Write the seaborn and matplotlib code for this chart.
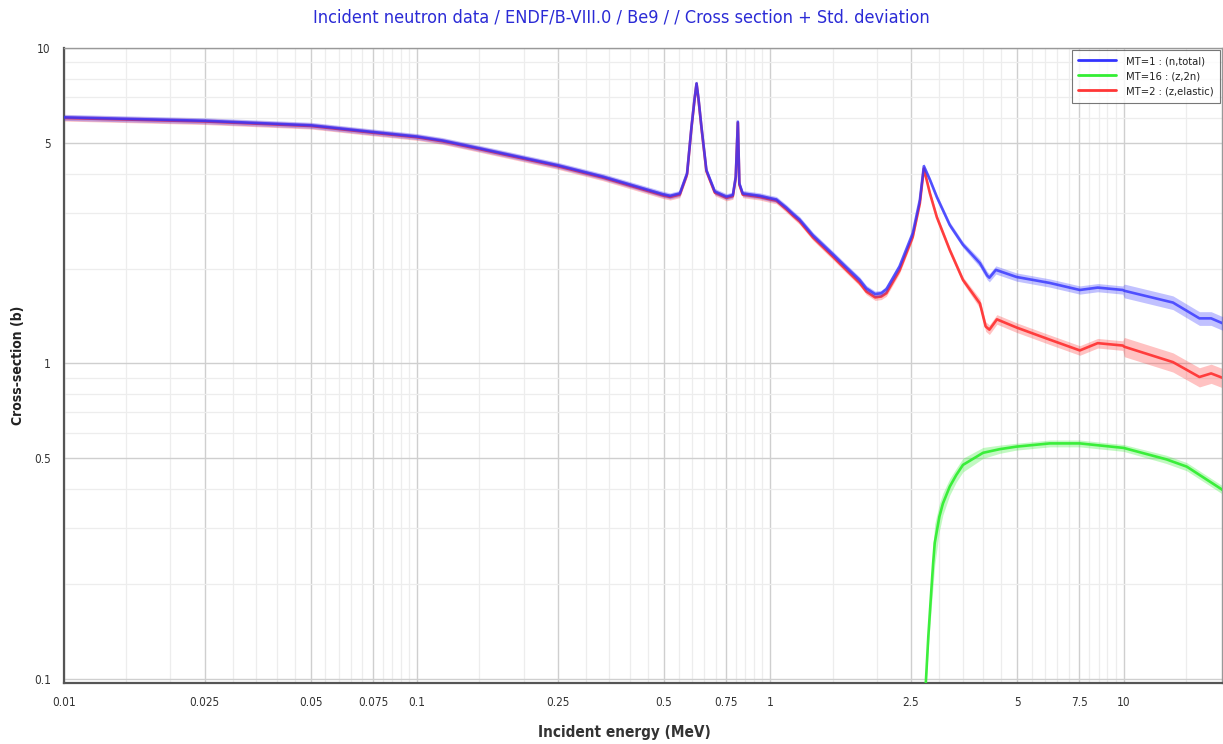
import numpy as np
import matplotlib
matplotlib.use("Agg")
import matplotlib.pyplot as plt
import seaborn as sns
from matplotlib.ticker import FixedLocator, FixedFormatter, NullFormatter
from matplotlib.lines import Line2D

# ---- Be-9 evaluated cross sections (ENDF/B-VIII.0), barns vs MeV ----
e_total = [0.01, 0.025, 0.05, 0.0735, 0.1, 0.118, 0.15, 0.174, 0.25, 0.336,
           0.496, 0.52, 0.554, 0.581, 0.598, 0.610, 0.618, 0.626, 0.638, 0.659,
           0.696, 0.751, 0.783, 0.798, 0.809, 0.817, 0.835, 0.934, 1.0, 1.04,
           1.11, 1.16, 1.21, 1.32, 1.51, 1.64, 1.79, 1.87, 1.98, 2.06,
           2.13, 2.32, 2.53, 2.65, 2.72, 2.83, 2.96, 3.22, 3.51, 3.92,
           4.11, 4.17, 4.35, 4.98, 6.18, 7.52, 8.45, 9.95, 10.05, 13.8,
           16.4, 17.7, 19.1]
xs_total = [6.03, 5.88, 5.69, 5.43, 5.24, 5.09, 4.81, 4.64, 4.25, 3.91,
            3.44, 3.40, 3.46, 4.01, 5.63, 6.90, 7.73, 6.90, 5.63, 4.10,
            3.51, 3.38, 3.42, 3.91, 5.84, 3.72, 3.46, 3.40, 3.34, 3.31,
            3.12, 2.98, 2.86, 2.55, 2.21, 2.02, 1.84, 1.73, 1.66, 1.67,
            1.72, 2.03, 2.59, 3.30, 4.22, 3.82, 3.37, 2.75, 2.38, 2.08,
            1.90, 1.87, 1.98, 1.88, 1.80, 1.71, 1.74, 1.71, 1.70, 1.56,
            1.39, 1.39, 1.34]
rel_std_total = [0.022] * 49 + [0.03] * 9 + [0.05] * 5

e_elastic = [0.01, 0.025, 0.05, 0.0735, 0.1, 0.118, 0.15, 0.174, 0.25, 0.336,
             0.496, 0.52, 0.554, 0.581, 0.598, 0.610, 0.618, 0.626, 0.638, 0.659,
             0.696, 0.751, 0.783, 0.798, 0.809, 0.817, 0.835, 0.934, 1.0, 1.04,
             1.11, 1.16, 1.21, 1.32, 1.51, 1.64, 1.79, 1.87, 1.98, 2.06,
             2.13, 2.32, 2.53, 2.65, 2.72, 2.83, 2.96, 3.22, 3.51, 3.92,
             4.07, 4.17, 4.38, 4.98, 6.18, 7.52, 8.45, 9.95, 10.05, 13.8,
             16.4, 17.7, 19.1]
xs_elastic = [6.00, 5.85, 5.66, 5.40, 5.21, 5.06, 4.78, 4.61, 4.22, 3.88,
              3.41, 3.37, 3.43, 3.98, 5.60, 6.86, 7.70, 6.86, 5.60, 4.07,
              3.48, 3.35, 3.39, 3.88, 5.80, 3.69, 3.43, 3.37, 3.31, 3.28,
              3.08, 2.94, 2.82, 2.51, 2.17, 1.98, 1.80, 1.69, 1.62, 1.63,
              1.67, 1.97, 2.52, 3.22, 4.15, 3.46, 2.91, 2.29, 1.84, 1.55,
              1.31, 1.28, 1.38, 1.30, 1.19, 1.10, 1.16, 1.14, 1.13, 1.01,
              0.906, 0.93, 0.90]
rel_std_elastic = [0.022] * 49 + [0.035] * 9 + [0.07] * 5

e_n2n = [2.745, 2.80, 2.86, 2.89, 2.92, 3.01, 3.08, 3.22, 3.36, 3.51,
         4.0, 4.46, 4.97, 6.18, 7.52, 10.0, 13.2, 15.1, 19.1]
xs_n2n = [0.09, 0.136, 0.196, 0.233, 0.27, 0.327, 0.360, 0.407, 0.443, 0.477,
          0.521, 0.535, 0.545, 0.558, 0.558, 0.54, 0.497, 0.471, 0.397]
rel_std_n2n = [0.05, 0.08, 0.12, 0.15, 0.15, 0.10, 0.08, 0.06, 0.05, 0.05,
               0.04, 0.03, 0.025, 0.025, 0.025, 0.025, 0.03, 0.03, 0.03]

labels = ["MT=1 : (n,total)", "MT=16 : (z,2n)", "MT=2 : (z,elastic)"]
colors = ["#3333ff", "#33ee33", "#ff3636"]

x_major = [0.01, 0.025, 0.05, 0.075, 0.1, 0.25, 0.5, 0.75, 1, 2.5, 5, 7.5, 10]
x_major_labels = ["0.01", "0.025", "0.05", "0.075", "0.1", "0.25", "0.5",
                  "0.75", "1", "2.5", "5", "7.5", "10"]
y_major = [0.1, 0.5, 1, 5, 10]
y_major_labels = ["0.1", "0.5", "1", "5", "10"]

sns.set_theme(style="white")
plt.rcParams["font.family"] = ["DejaVu Sans"]
plt.rcParams["font.stretch"] = "condensed"

fig = plt.figure(figsize=(12.23, 7.44), dpi=100)
ax = fig.add_axes([64 / 1223, 61 / 744, 1158 / 1223, 635 / 744])
ax.set_xscale("log")
ax.set_yscale("log")

series = [
    (e_total, xs_total, rel_std_total, colors[0], 4, 0.8),
    (e_n2n, xs_n2n, rel_std_n2n, colors[1], 3, 0.95),
    (e_elastic, xs_elastic, rel_std_elastic, colors[2], 2, 0.95),
]
for e, xs, rs, c, z, a in series:
    e = np.asarray(e)
    xs = np.asarray(xs)
    rs = np.asarray(rs)
    ax.fill_between(e, xs * (1 - rs), xs * (1 + rs), color=c, alpha=0.3,
                    lw=0, zorder=z - 0.5)
    sns.lineplot(x=e, y=xs, ax=ax, color=c, lw=1.9, alpha=a,
                 estimator=None, sort=False, zorder=z)

ax.set_xlim(0.01, 19.0)
ax.set_ylim(0.0971, 10)

# ticks: labelled majors plus half-step minors on x, integer minors on y
x_minor = [k * 0.5 * d for d in (0.01, 0.1, 1, 10) for k in range(3, 20)]
y_minor = [k * d for d in (0.1, 1) for k in range(2, 10)]
ax.xaxis.set_major_locator(FixedLocator(x_major))
ax.xaxis.set_major_formatter(FixedFormatter(x_major_labels))
ax.xaxis.set_minor_locator(FixedLocator(x_minor))
ax.xaxis.set_minor_formatter(NullFormatter())
ax.yaxis.set_major_locator(FixedLocator(y_major))
ax.yaxis.set_major_formatter(FixedFormatter(y_major_labels))
ax.yaxis.set_minor_locator(FixedLocator(y_minor))
ax.yaxis.set_minor_formatter(NullFormatter())

ax.grid(which="major", color="#cfcfcf", lw=1.0, zorder=0)
ax.grid(which="minor", color="#ededed", lw=0.9, zorder=0)
ax.set_axisbelow(True)

ax.tick_params(which="major", direction="inout", length=7, width=1,
               color="#444444", labelsize=8.5, labelcolor="#333333", pad=6)
ax.tick_params(which="minor", direction="in", length=4, width=1,
               color="#444444")
ax.tick_params(axis="y", which="both", right=False)
ax.tick_params(axis="x", which="both", top=False)
for side in ("left", "bottom"):
    ax.spines[side].set_color("#555555")
    ax.spines[side].set_linewidth(1.6)
for side in ("top", "right"):
    ax.spines[side].set_color("#999999")
    ax.spines[side].set_linewidth(1.0)

ax.set_xlabel("Incident energy (MeV)", fontsize=11, color="#333333",
              fontweight="semibold", va="center")
ax.xaxis.set_label_coords(0.4836, -0.0787)
ax.set_ylabel("Cross-section (b)", fontsize=10, color="#222222",
              fontweight="bold", va="center")
ax.yaxis.set_label_coords(-0.0397, 0.50)

fig.suptitle("Incident neutron data / ENDF/B-VIII.0 / Be9 / / Cross section + Std. deviation",
             x=0.508, y=0.977, va="center", fontsize=13, color="#2b2bd6")

handles = [Line2D([0], [0], color=c, lw=2) for c in colors]
leg = ax.legend(handles, labels, loc="upper right", bbox_to_anchor=(1.0, 1.0),
                fontsize=8, frameon=True, fancybox=False, borderaxespad=0.15,
                handlelength=3.4, handletextpad=0.9, labelspacing=0.45,
                borderpad=0.6)
leg.get_frame().set_edgecolor("#555555")
leg.get_frame().set_linewidth(0.8)
for t in leg.get_texts():
    t.set_color("#222222")

fig.savefig("out.png", dpi=100)
